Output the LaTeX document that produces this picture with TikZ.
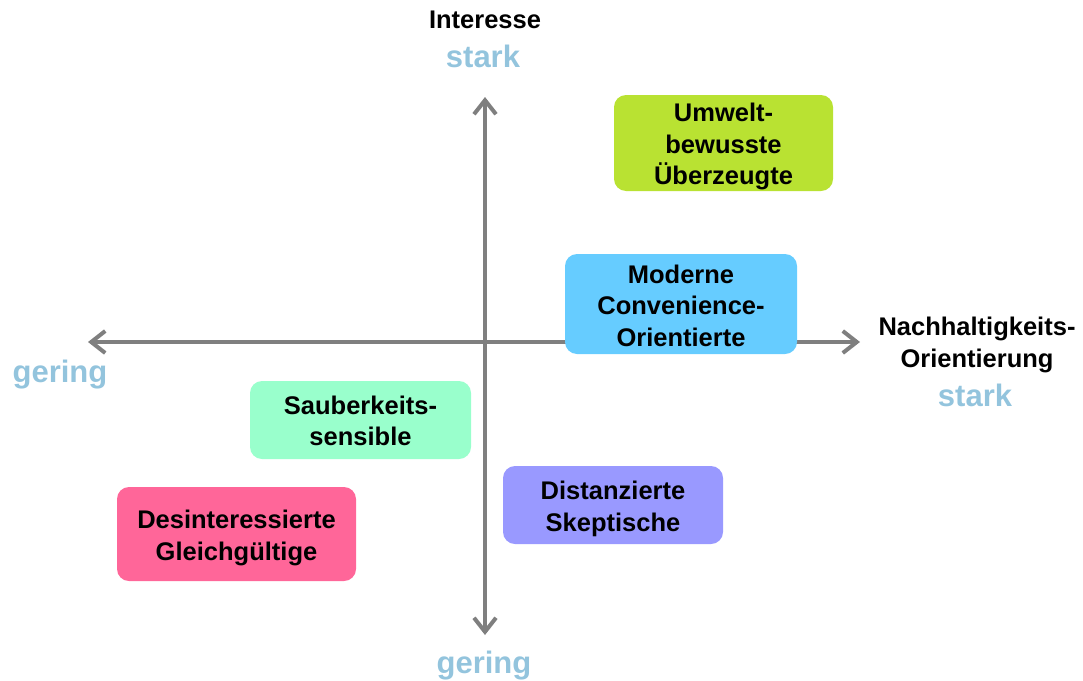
\documentclass[tikz,border=0pt]{standalone}
\usepackage{fontspec}
\setmainfont{Liberation Sans}
\usetikzlibrary{arrows.meta}
\definecolor{axisgray}{HTML}{7F7F7F}
\definecolor{lblblue}{HTML}{93C4DD}
\definecolor{cgreen}{HTML}{B9E232}
\definecolor{cblue}{HTML}{66CCFF}
\definecolor{cmint}{HTML}{99FFCC}
\definecolor{cpink}{HTML}{FF6699}
\definecolor{cviolet}{HTML}{9999FF}
\tikzset{
  axisline/.style={draw=axisgray, line width=4pt,
    {Straight Barb[length=14pt,width=22pt]}-{Straight Barb[length=14pt,width=22pt]}},
  seg/.style={rounded corners=12pt, inner sep=0pt},
  segtext/.style={inner sep=0pt, align=center,
    font=\fontsize{25.5}{31.5}\selectfont\bfseries},
  axlabel/.style={anchor=base, inner sep=0pt,
    font=\fontsize{25.5}{31.5}\selectfont\bfseries},
  endlabel/.style={anchor=base, inner sep=0pt, text=lblblue,
    font=\fontsize{31}{36}\selectfont\bfseries}
}
\begin{document}
\begin{tikzpicture}[x=1pt,y=-1pt]
\useasboundingbox (0,0) rectangle (1083,680);
% axes
\coordinate (top) at (485,97);
\coordinate (bottom) at (485,635);
\coordinate (left) at (88,342);
\coordinate (right) at (860,342);
\draw[axisline] (left) -- (right);
\draw[axisline] (top) -- (bottom);
% segments
\node[seg, fill=cgreen, minimum width=219pt, minimum height=96pt] (umwelt) at (723.5,143) {};
\node[segtext] (umweltT) at ([yshift=-3.5pt]umwelt.center) {Umwelt-\\bewusste\\Überzeugte};
\node[seg, fill=cblue, minimum width=232pt, minimum height=100pt] (moderne) at (681,304) {};
\node[segtext] (moderneT) at ([yshift=-1.5pt]moderne.center) {Moderne\\Convenience-\\Orientierte};
\node[seg, fill=cmint, minimum width=221pt, minimum height=78pt] (sauber) at (360.5,420) {};
\node[segtext] (sauberT) at ([yshift=-1pt]sauber.center) {Sauberkeits-\\sensible};
\node[seg, fill=cpink, minimum width=239pt, minimum height=94pt] (desint) at (236.5,534) {};
\node[segtext] (desintT) at ([yshift=-4pt]desint.center) {Desinteressierte\\Gleichgültige};
\node[seg, fill=cviolet, minimum width=220pt, minimum height=78pt] (distanz) at (613,505) {};
\node[segtext] (distanzT) at ([yshift=-4pt]distanz.center) {Distanzierte\\Skeptische};
% labels
\node[axlabel] (interesse) at (485,28) {Interesse};
\node[endlabel] (starktop) at (483,67) {stark};
\node[axlabel] (nachh) at (977,335) {Nachhaltigkeits-};
\node[axlabel] (orient) at (977,367) {Orientierung};
\node[endlabel] (starkright) at (975,406) {stark};
\node[endlabel] (geringleft) at (60,382) {gering};
\node[endlabel] (geringbottom) at (484,673) {gering};
\end{tikzpicture}
\end{document}
